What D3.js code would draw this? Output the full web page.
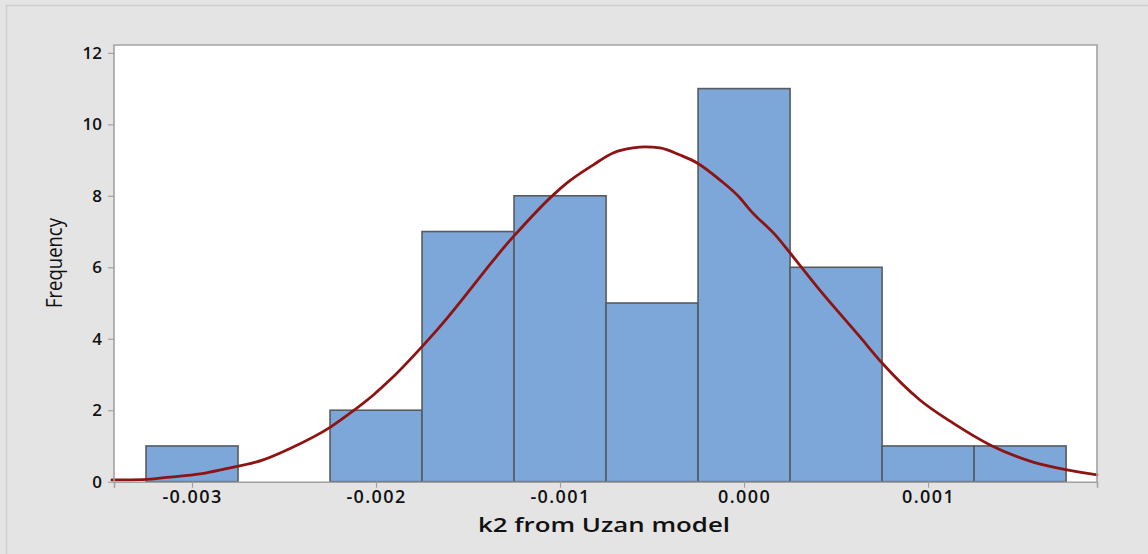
<!DOCTYPE html>
<html><head><meta charset="utf-8">
<script src="https://cdn.jsdelivr.net/npm/d3@7"></script>
<style>
html,body{margin:0;padding:0;background:#e4e4e4;}
svg{display:block;}
</style></head>
<body>
<svg id="chart" width="1148" height="554"></svg>
<script>
// Data
const binCenters = [-0.003, -0.0025, -0.002, -0.0015, -0.001, -0.0005, 0.0, 0.0005, 0.001, 0.0015];
const frequencies = [1, 0, 2, 7, 8, 5, 11, 6, 1, 1];
const binWidth = 0.0005;
const xTickValues = [-0.003, -0.002, -0.001, 0.0, 0.001];
const xTickLabels = ["-0.003", "-0.002", "-0.001", "0.000", "0.001"];
const yTickValues = [0, 2, 4, 6, 8, 10, 12];
// Fitted normal curve
const curveX = [-0.003435, -0.003266, -0.00312, -0.002957, -0.002821, -0.002614, -0.002467, -0.00225, -0.002125, -0.002016, -0.001924, -0.001668, -0.001255, -0.001038, -0.000962, -0.000821, -0.000712, -0.000603, -0.000538, -0.000457, -0.000348, -0.000255, -0.00013, -0.000022, 0.000033, 0.000179, 0.00025, 0.000397, 0.00063, 0.00075, 0.000957, 0.001136, 0.001337, 0.001571, 0.001755, 0.001918];
const curveY = [0.05, 0.06, 0.13, 0.22, 0.36, 0.61, 0.93, 1.52, 1.98, 2.42, 2.85, 4.25, 6.85, 8.02, 8.36, 8.86, 9.20, 9.34, 9.37, 9.34, 9.14, 8.92, 8.44, 7.94, 7.60, 6.85, 6.40, 5.45, 4.05, 3.32, 2.28, 1.64, 1.03, 0.55, 0.33, 0.19];
const xTitle = "k2 from Uzan model";
const yTitle = "Frequency";

const svg = d3.select("#chart");
const pL = 114, pR = 1097, pT = 45, pB = 481.7;

// outer frame
svg.append("rect").attr("x", 0).attr("y", 0).attr("width", 1148).attr("height", 554).attr("fill", "#e4e4e4");
svg.append("path").attr("d", "M6.5,560 L6.5,5.5 L1160,5.5").attr("fill", "none").attr("stroke", "#cfcfcf").attr("stroke-width", 1.5);

const x = d3.scaleLinear().domain([-0.003424, 0.001918]).range([pL, pR]);
const y = d3.scaleLinear().domain([0, 12.22]).range([pB, pT]);

// plot area
svg.append("rect").attr("x", pL).attr("y", pT).attr("width", pR - pL).attr("height", pB - pT)
  .attr("fill", "#ffffff");

// bars
svg.append("g").selectAll("rect").data(binCenters.map((c, i) => ({c, f: frequencies[i]})).filter(d => d.f > 0))
  .enter().append("rect")
  .attr("x", d => x(d.c - binWidth / 2))
  .attr("width", d => x(d.c + binWidth / 2) - x(d.c - binWidth / 2))
  .attr("y", d => y(d.f))
  .attr("height", d => y(0) - y(d.f))
  .attr("fill", "#7ca7d8")
  .attr("stroke", "#575b60")
  .attr("stroke-width", 1.6);

// curve
const pts = curveX.map((v, i) => [v, curveY[i]]);
const line = d3.line().x(d => x(d[0])).y(d => y(d[1])).curve(d3.curveMonotoneX);
svg.append("path").datum(pts).attr("d", line)
  .attr("fill", "none").attr("stroke", "#8e1414").attr("stroke-width", 2.8)
  .attr("stroke-linejoin", "round").attr("stroke-linecap", "round");

// plot border (left, top, right)
svg.append("path").attr("d", `M${pL},${pB} L${pL},${pT} L${pR},${pT} L${pR},${pB}`)
  .attr("fill", "none").attr("stroke", "#a2a2a2").attr("stroke-width", 1.6);

// axes
const xAxis = d3.axisBottom(x).tickValues(xTickValues).tickFormat((d, i) => xTickLabels[i]).tickSizeOuter(0).tickSize(6).tickPadding(3);
const gx = svg.append("g").attr("transform", `translate(0,${pB})`).call(xAxis);
gx.select(".domain").attr("stroke", "#a2a2a2").attr("stroke-width", 1.6);
gx.selectAll(".tick line").attr("stroke", "#a2a2a2").attr("stroke-width", 1.2);
gx.selectAll(".tick text").attr("fill", "#111").attr("font-family", "'Open Sans', sans-serif")
  .attr("font-size", 18).attr("font-weight", 600).attr("letter-spacing", 1.4);

const yAxis = d3.axisLeft(y).tickValues(yTickValues).tickSizeOuter(0).tickSize(6).tickPadding(6);
const gy = svg.append("g").attr("transform", `translate(${pL},0)`).call(yAxis);
gy.select(".domain").remove();
gy.selectAll(".tick line").attr("stroke", "#a2a2a2").attr("stroke-width", 1.2);
gy.selectAll(".tick text").attr("fill", "#111").attr("font-family", "'Open Sans', sans-serif")
  .attr("font-size", 17).attr("font-weight", 600);

// titles
svg.append("text").attr("x", 604).attr("y", 532).attr("text-anchor", "middle")
  .attr("font-family", "'Open Sans', sans-serif").attr("font-size", 20).attr("font-weight", 600)
  .attr("fill", "#111").attr("textLength", 252).attr("lengthAdjust", "spacingAndGlyphs").text(xTitle);

svg.append("text").attr("transform", "translate(62,263) rotate(-90)").attr("text-anchor", "middle")
  .attr("font-family", "'Open Sans', sans-serif").attr("font-size", 22).attr("font-weight", 500)
  .attr("fill", "#111").attr("textLength", 90).attr("lengthAdjust", "spacingAndGlyphs").text(yTitle);
</script>
</body></html>
